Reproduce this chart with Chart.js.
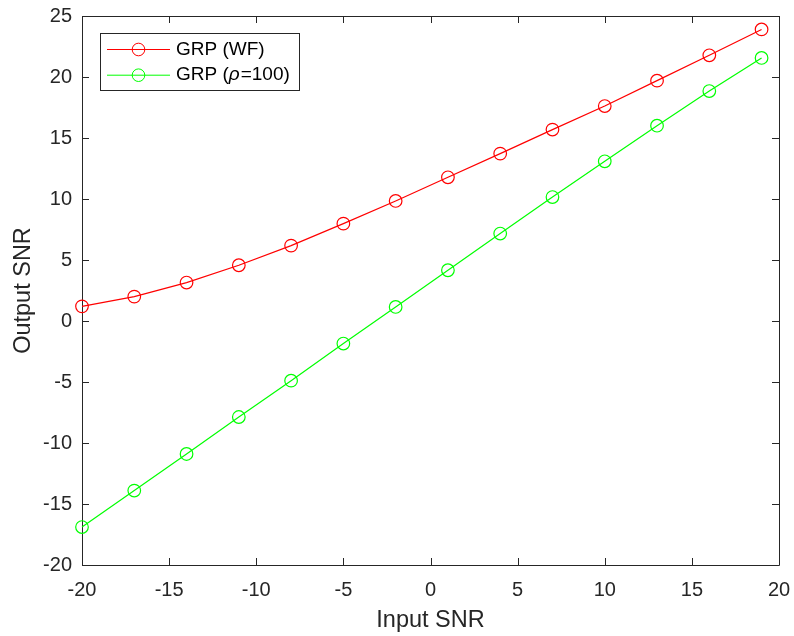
<!DOCTYPE html>
<html>
<head>
<meta charset="utf-8">
<script src="https://cdn.jsdelivr.net/npm/chart.js@4.4.1/dist/chart.umd.min.js"></script>
<style>
  html, body { margin: 0; padding: 0; background: #fff; }
  #wrap { width: 794px; height: 636px; }
</style>
</head>
<body>
<div id="wrap"><canvas id="snrChart" width="794" height="636"></canvas></div>
<script>
// input SNR grid (dB)
var inputSnr = [-20, -17, -14, -11, -8, -5, -2, 1, 4, 7, 10, 13, 16, 19];
// output SNR, water-filling power allocation
var wfSnr = [1.2, 2.0, 3.15, 4.57, 6.18, 7.98, 9.84, 11.78, 13.72, 15.69, 17.62, 19.7, 21.78, 23.9];
// output SNR, fixed rho = 100
var rho100Snr = [-16.89, -13.9, -10.9, -7.87, -4.89, -1.85, 1.15, 4.16, 7.17, 10.16, 13.09, 16.01, 18.85, 21.56];
// axis ticks
var xTicks = [-20, -15, -10, -5, 0, 5, 10, 15, 20];
var yTicks = [-20, -15, -10, -5, 0, 5, 10, 15, 20, 25];

var axisColor = '#262626';
var fontName = "'Liberation Sans', Arial, Helvetica, sans-serif";

function toPoints(xs, ys){
   var pts = [];
   for (var i = 0; i < xs.length; i++) {
      pts.push({x: xs[i], y: ys[i]});
   }
   return pts;
}

//the layout padding alone decides where the plot box sits
function dropLabelPadding(scale){
   scale.paddingLeft = 0;
   scale.paddingRight = 0;
   scale.paddingTop = 0;
   scale.paddingBottom = 0;
}

//box around the plot area with inward tick marks on all four sides
var frameBox = {
   id: 'frameBox',
   beforeDatasetsDraw: function(chart){
      var ctx = chart.ctx;
      var a = chart.chartArea;
      var xs = chart.scales.x, ys = chart.scales.y;
      var tick = 7;
      ctx.save();
      ctx.strokeStyle = axisColor;
      ctx.lineWidth = 1;
      ctx.beginPath();
      ctx.rect(Math.round(a.left) + 0.5, Math.round(a.top) + 0.5,
               Math.round(a.right - a.left), Math.round(a.bottom - a.top));
      for (var i = 0; i < xTicks.length; i++) {
         var px = Math.round(xs.getPixelForValue(xTicks[i])) + 0.5;
         ctx.moveTo(px, a.bottom); ctx.lineTo(px, a.bottom - tick);
         ctx.moveTo(px, a.top); ctx.lineTo(px, a.top + tick);
      }
      for (var j = 0; j < yTicks.length; j++) {
         var py = Math.round(ys.getPixelForValue(yTicks[j])) + 0.5;
         ctx.moveTo(a.left, py); ctx.lineTo(a.left + tick, py);
         ctx.moveTo(a.right, py); ctx.lineTo(a.right - tick, py);
      }
      ctx.stroke();
      ctx.restore();
   }
};

//legend box in the upper left corner: line + open circle + label
var boxLegend = {
   id: 'boxLegend',
   afterDraw: function(chart){
      var ctx = chart.ctx;
      var a = chart.chartArea;
      var x0 = a.left + 18, y0 = a.top + 17;
      var w = 199, h = 57;
      ctx.save();
      ctx.fillStyle = '#fff';
      ctx.fillRect(x0, y0, w, h);
      ctx.strokeStyle = axisColor;
      ctx.lineWidth = 1;
      ctx.strokeRect(Math.round(x0) + 0.5, Math.round(y0) + 0.5, w, h);
      var sets = chart.data.datasets;
      for (var i = 0; i < sets.length; i++) {
         var cy = y0 + 16.5 + i * 25.7;
         var lx = x0 + 7;
         ctx.strokeStyle = sets[i].borderColor;
         ctx.lineWidth = 1;
         ctx.beginPath();
         ctx.moveTo(lx, cy); ctx.lineTo(lx + 63, cy);
         ctx.stroke();
         ctx.beginPath();
         ctx.arc(lx + 31.5, cy, 6.3, 0, Math.PI * 2);
         ctx.stroke();
         //label, with greek letters set in italic
         ctx.fillStyle = '#000';
         ctx.textBaseline = 'middle';
         var tx = lx + 69;
         var parts = sets[i].label.split(/(ρ)/);
         for (var p = 0; p < parts.length; p++) {
            if (parts[p] === '') continue;
            ctx.font = (parts[p] === 'ρ' ? 'italic ' : '') + '19px ' + fontName;
            ctx.fillText(parts[p], tx, cy);
            tx += ctx.measureText(parts[p]).width + (parts[p] === 'ρ' ? 1 : 0);
         }
      }
      ctx.restore();
   }
};

var ctx = document.getElementById('snrChart').getContext('2d');
var chart = new Chart(ctx, {
   type: 'line',
   data: {
      datasets: [{
         label: 'GRP (WF)',
         data: toPoints(inputSnr, wfSnr),
         borderColor: '#ff0000',
         borderWidth: 1.2,
         pointStyle: 'circle',
         pointRadius: 6.3,
         pointBorderWidth: 1.2,
         pointBackgroundColor: 'rgba(0,0,0,0)',
         pointBorderColor: '#ff0000',
         tension: 0
      }, {
         label: 'GRP (ρ=100)',
         data: toPoints(inputSnr, rho100Snr),
         borderColor: '#00ff00',
         borderWidth: 1.2,
         pointStyle: 'circle',
         pointRadius: 6.3,
         pointBorderWidth: 1.2,
         pointBackgroundColor: 'rgba(0,0,0,0)',
         pointBorderColor: '#00ff00',
         tension: 0
      }]
   },
   options: {
      responsive: false,
      animation: false,
      clip: false,
      layout: { padding: { left: 0, top: 16, right: 15, bottom: 0 } },
      plugins: {
         legend: { display: false },
         tooltip: { enabled: false }
      },
      scales: {
         x: {
            type: 'linear',
            min: -20,
            max: 20,
            grid: { display: false, drawTicks: false },
            border: { display: false },
            afterBuildTicks: function(scale){
               scale.ticks = xTicks.map(function(v){ return {value: v}; });
            },
            afterFit: function(scale){
               scale.height = 71;
               dropLabelPadding(scale);
            },
            ticks: {
               color: axisColor,
               font: { family: fontName, size: 20 },
               padding: 13,
               maxRotation: 0,
               autoSkip: false
            },
            title: {
               display: true,
               text: 'Input SNR',
               color: axisColor,
               font: { family: fontName, size: 23.5 },
               padding: { top: 0, bottom: 1 }
            }
         },
         y: {
            type: 'linear',
            min: -20,
            max: 25,
            grid: { display: false, drawTicks: false },
            border: { display: false },
            afterBuildTicks: function(scale){
               scale.ticks = yTicks.map(function(v){ return {value: v}; });
            },
            afterFit: function(scale){
               scale.width = 82;
               dropLabelPadding(scale);
            },
            ticks: {
               color: axisColor,
               font: { family: fontName, size: 20 },
               padding: 10,
               autoSkip: false
            },
            title: {
               display: true,
               text: 'Output SNR',
               color: axisColor,
               font: { family: fontName, size: 23.5 },
               padding: { top: 9, bottom: 0 }
            }
         }
      }
   },
   plugins: [frameBox, boxLegend]
});
</script>
</body>
</html>
